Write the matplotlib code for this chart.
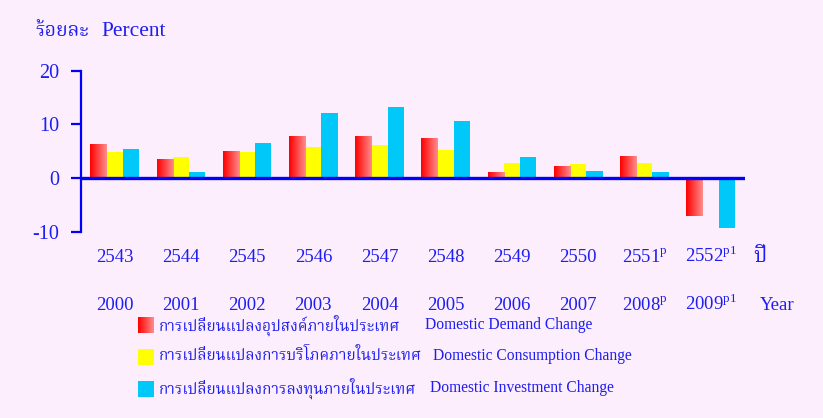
import numpy as np
import matplotlib
matplotlib.use("Agg")
import matplotlib.pyplot as plt
from matplotlib import font_manager, transforms
from matplotlib.ft2font import FT2Font
from matplotlib.patches import Rectangle

# data
years_th = ['2543', '2544', '2545', '2546', '2547', '2548', '2549', '2550', '2551', '2552']
years_en = ['2000', '2001', '2002', '2003', '2004', '2005', '2006', '2007', '2008', '2009']
marks = ['', '', '', '', '', '', '', '', 'p', 'p1']
demand = [6.3, 3.5, 5.0, 7.8, 7.8, 7.4, 1.1, 2.2, 4.1, -7.0]
consumption = [4.8, 3.9, 4.8, 5.9, 6.1, 5.3, 2.9, 2.7, 2.9, 0.0]
investment = [5.4, 1.1, 6.5, 12.1, 13.2, 10.6, 3.9, 1.4, 1.1, -9.3]
labels_th = ['การเปลี่ยนแปลงอุปสงค์ภายในประเทศ',
             'การเปลี่ยนแปลงการบริโภคภายในประเทศ',
             'การเปลี่ยนแปลงการลงทุนภายในประเทศ']
labels_en = ['Domestic Demand Change', 'Domestic Consumption Change',
             'Domestic Investment Change']
yticks = [-10, 0, 10, 20]


def find_thai_font():
    found = []
    for f in font_manager.fontManager.ttflist:
        try:
            if 0x0E01 in FT2Font(f.fname).get_charmap():
                found.append(f.name)
        except Exception:
            pass
    for pref in ['Noto Serif Thai', 'Loma', 'Garuda', 'Norasi', 'Noto Sans Thai']:
        if pref in found:
            return pref
    return found[0] if found else 'DejaVu Sans'


thai = find_thai_font()
serif = 'Liberation Serif'
plt.rcParams['mathtext.fontset'] = 'custom'
plt.rcParams['mathtext.rm'] = serif
plt.rcParams['font.family'] = [serif, thai]
plt.rcParams['axes.unicode_minus'] = False

BG = '#FCEEFC'
TXT = '#1E1EF0'
BLUE = '#0000FF'
YEL = '#FFFF00'
CYAN = '#00C8F8'
W, H = 823, 418


def px(x, y):
    return x / W, 1 - y / H


fig = plt.figure(figsize=(W / 100, H / 100), dpi=100, facecolor=BG)
ax = fig.add_axes([81 / W, 1 - 232 / H, (745 - 81) / W, (232 - 70.7) / H])
ax.set_facecolor(BG)

x = np.arange(len(years_th))
bw = 0.245
red_bars = ax.bar(x - bw, demand, bw, color='#FF3030', zorder=2)
ax.bar(x, consumption, bw, color=YEL, zorder=2)
ax.bar(x + bw, investment, bw, color=CYAN, zorder=2)

# red bars fade from red to salmon
grad = np.linspace(0, 1, 64).reshape(1, -1)
cmap = matplotlib.colors.LinearSegmentedColormap.from_list('rg', ['#FF0000', '#FF8C8C'])
for b in red_bars:
    y0, y1 = b.get_y(), b.get_y() + b.get_height()
    im = ax.imshow(grad, cmap=cmap, aspect='auto', zorder=3,
                   extent=[b.get_x(), b.get_x() + b.get_width(), min(y0, y1), max(y0, y1)])
    im.set_clip_path(b)

ax.set_xlim(-0.51, 9.52)
ax.set_ylim(-10, 20)
ax.axhline(0, color=BLUE, lw=2.4, zorder=4)
for s in ['top', 'right', 'bottom']:
    ax.spines[s].set_visible(False)
ax.spines['left'].set_color(BLUE)
ax.spines['left'].set_linewidth(1.6)
ax.set_xticks([])
ax.set_yticks(yticks)
ax.tick_params(axis='y', direction='out', length=7.5, width=1.6, color=BLUE,
               labelcolor=TXT, labelsize=14.5, pad=8)

tr = transforms.blended_transform_factory(ax.transData, fig.transFigure)
for i in range(len(years_th)):
    sup = r'$^{\mathrm{%s}}$' % marks[i] if marks[i] else ''
    ax.text(x[i], 1 - 262 / H, years_th[i] + sup, transform=tr, ha='center',
            va='baseline', color=TXT, fontsize=13.5)
    ax.text(x[i], 1 - 310 / H, years_en[i] + sup, transform=tr, ha='center',
            va='baseline', color=TXT, fontsize=13.5)

fig.text(*px(753, 262), 'ปี', family=[thai, serif], color=TXT, fontsize=15, va='baseline')
fig.text(*px(760, 310), 'Year', color=TXT, fontsize=13.5, va='baseline')

t = fig.text(*px(35, 36), 'ร้อยละ', family=[thai, serif], color=TXT, fontsize=14, va='baseline')
ax.annotate('Percent', xy=(1, 0), xycoords=t, xytext=(9, 0), textcoords='offset points',
            color=TXT, fontsize=15.5, va='bottom', annotation_clip=False)

# legend drawn by hand
rows = [325, 356.5, 388.5]
en_x = [425, 433, 430]
for k, yy in enumerate(rows):
    if k == 0:
        lax = fig.add_axes([138 / W, 1 - (yy + 8) / H, 16 / W, 16 / H])
        lax.imshow(grad, cmap=cmap, aspect='auto')
        lax.set_axis_off()
    else:
        rx, ry = px(138, yy + 8)
        fig.add_artist(Rectangle((rx, ry), 16 / W, 16 / H, transform=fig.transFigure,
                                 facecolor=[YEL, CYAN][k - 1], edgecolor='none'))
    fig.text(*px(159, yy), labels_th[k], family=[thai, serif], color=TXT,
             fontsize=11, va='center')
    fig.text(*px(en_x[k], yy), labels_en[k], color=TXT, fontsize=11.2, va='center')

fig.savefig('out.png', dpi=100, facecolor=BG)
